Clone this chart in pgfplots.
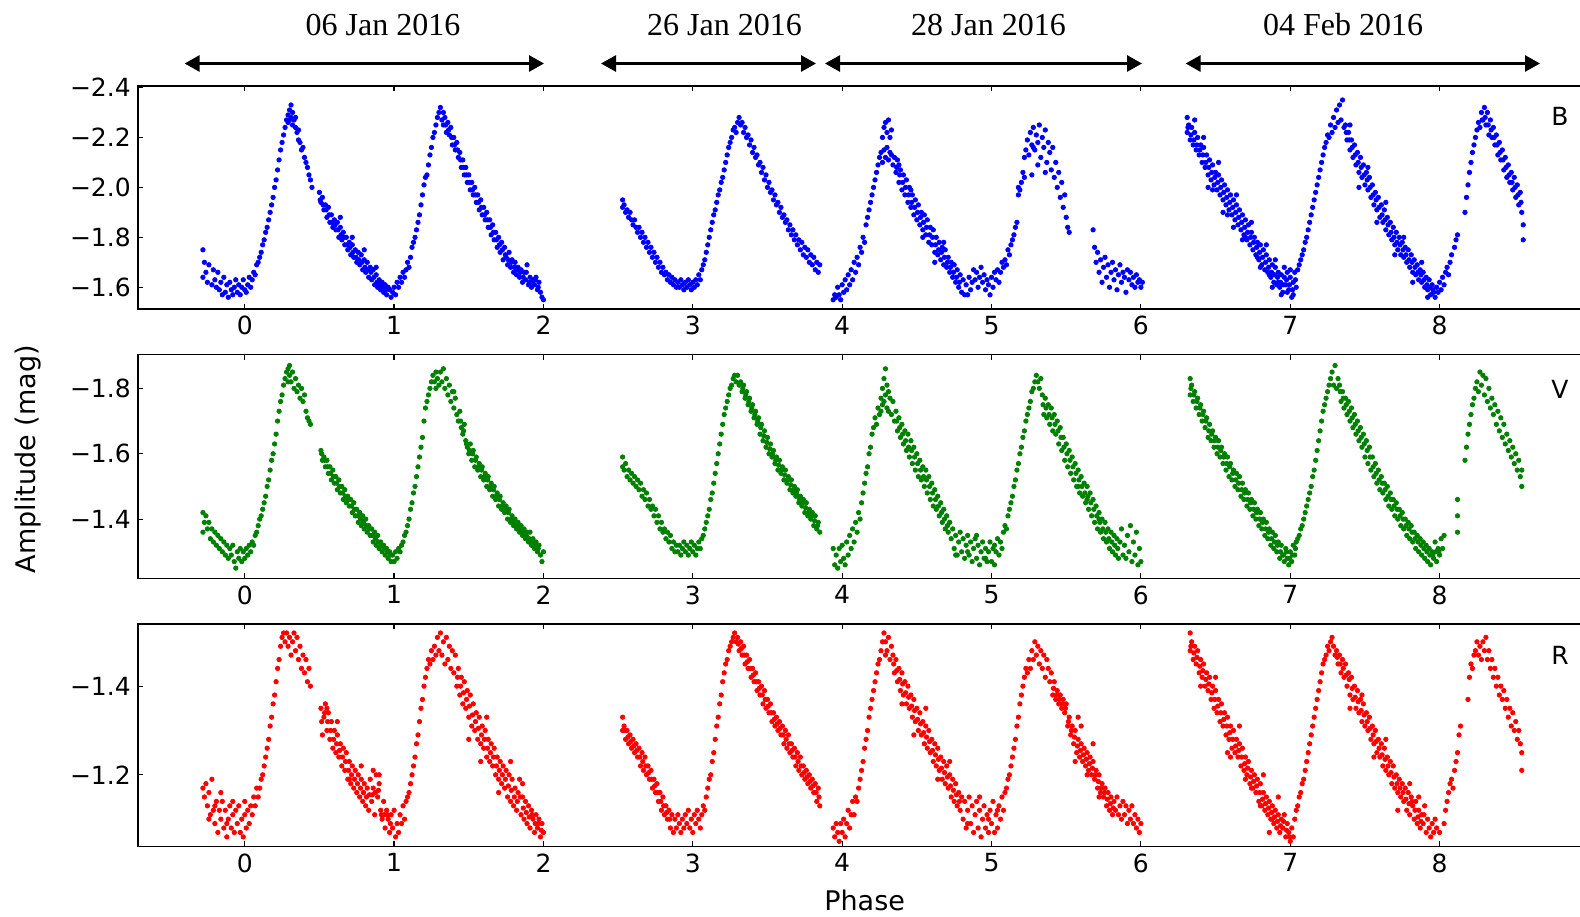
\documentclass[border=0pt]{standalone}
\usepackage{fontspec}
\setmainfont{DejaVu Sans}
\newfontfamily\timesf{Liberation Serif}
\usepackage{pgfplots}
\pgfplotsset{compat=1.18}
\usetikzlibrary{arrows.meta}
\definecolor{mblue}{RGB}{0,0,255}
\definecolor{mgreen}{RGB}{0,128,0}
\definecolor{mred}{RGB}{255,0,0}
\pgfplotsset{
  panel/.style={
    scale only axis, width=723.1pt,
    xmin=-0.716, xmax=8.9668,
    y dir=reverse,
    axis line style={line width=0.8pt},
    tick align=inside,
    xtick={0,1,2,3,4,5,6,7,8}, xticklabels={0,1,2,3,4,5,6,7,8},
    xtick pos=both, xticklabel pos=lower,
    ytick pos=left,
    major tick length=2.6pt,
    every tick/.style={black, line width=0.6pt},
    tick label style={font=\fontsize{12.5}{14}\selectfont},
  },
  dots/.style={only marks, mark=*, mark size=1.1pt, mark options={draw=none}, color=#1},
}
\begin{document}
\begin{tikzpicture}
\useasboundingbox (0,0) rectangle (790pt,-458pt);
% date labels and arrows
\node[font=\timesf\fontsize{16}{18}\selectfont, anchor=base] at (191.5pt,-17.5pt) {06 Jan 2016};
\node[font=\timesf\fontsize{16}{18}\selectfont, anchor=base] at (362.25pt,-17.5pt) {26 Jan 2016};
\node[font=\timesf\fontsize{16}{18}\selectfont, anchor=base] at (494.25pt,-17.5pt) {28 Jan 2016};
\node[font=\timesf\fontsize{16}{18}\selectfont, anchor=base] at (671.5pt,-17.5pt) {04 Feb 2016};
\begin{scope}[line width=1.4pt, {Triangle[length=7.5pt,width=8pt]}-{Triangle[length=7.5pt,width=8pt]}]
\draw (92.3pt,-31.75pt) -- (272pt,-31.75pt);
\draw (300.5pt,-31.75pt) -- (408pt,-31.75pt);
\draw (412.5pt,-31.75pt) -- (571pt,-31.75pt);
\draw (592.8pt,-31.75pt) -- (770pt,-31.75pt);
\end{scope}
\node[font=\fontsize{13.5}{15}\selectfont, rotate=90, anchor=base] at (17.7pt,-229.5pt) {Amplitude (mag)};
\node[font=\fontsize{13.5}{15}\selectfont, anchor=base] at (432.3pt,-455pt) {Phase};

% ---------------- B ----------------
\begin{axis}[panel, at={(68.9pt,-43pt)}, anchor=north west, height=111.5pt,
  ymin=-2.406, ymax=-1.513,
  ytick={-2.4,-2.2,-2.0,-1.8,-1.6}, yticklabels={−2.4,−2.2,−2.0,−1.8,−1.6}]
\addplot[dots=mblue] coordinates {
(-0.28,-1.75)(-0.28,-1.64)(-0.27,-1.70)(-0.26,-1.66)(-0.25,-1.62)(-0.24,-1.69)(-0.22,-1.61)(-0.21,-1.67)(-0.20,-1.63)(-0.19,-1.60)
(-0.18,-1.66)(-0.17,-1.59)(-0.16,-1.62)(-0.15,-1.57)(-0.14,-1.64)(-0.13,-1.58)(-0.12,-1.61)(-0.11,-1.56)(-0.10,-1.62)(-0.09,-1.59)
(-0.08,-1.57)(-0.07,-1.60)(-0.06,-1.63)(-0.05,-1.58)(-0.04,-1.61)(-0.03,-1.57)(-0.02,-1.60)(-0.01,-1.63)(0.00,-1.59)(0.01,-1.58)
(0.02,-1.61)(0.03,-1.64)(0.04,-1.60)(0.05,-1.63)(0.06,-1.66)(0.07,-1.65)(0.08,-1.69)(0.09,-1.70)(0.10,-1.72)(0.11,-1.74)
(0.12,-1.77)(0.13,-1.79)(0.14,-1.82)(0.15,-1.84)(0.16,-1.87)(0.17,-1.90)(0.18,-1.93)(0.19,-1.96)(0.20,-2.00)(0.21,-2.03)
(0.22,-2.07)(0.23,-2.11)(0.24,-2.15)(0.25,-2.18)(0.26,-2.21)(0.27,-2.24)(0.28,-2.27)(0.29,-2.26)(0.29,-2.29)(0.30,-2.31)
(0.30,-2.27)(0.31,-2.33)(0.31,-2.28)(0.32,-2.30)(0.32,-2.25)(0.33,-2.27)(0.34,-2.24)(0.34,-2.28)(0.35,-2.22)(0.36,-2.19)
(0.36,-2.23)(0.37,-2.18)(0.38,-2.15)(0.39,-2.16)(0.40,-2.12)(0.41,-2.10)(0.42,-2.08)(0.43,-2.05)(0.44,-2.03)(0.45,-2.00)
(0.50,-1.98)(0.51,-1.94)(0.52,-1.96)(0.53,-1.91)(0.54,-1.93)(0.55,-1.88)(0.56,-1.92)(0.57,-1.86)(0.58,-1.89)(0.59,-1.84)
(0.60,-1.87)(0.61,-1.83)(0.62,-1.86)(0.63,-1.80)(0.64,-1.84)(0.65,-1.79)(0.66,-1.82)(0.67,-1.77)(0.68,-1.80)(0.69,-1.75)
(0.70,-1.78)(0.71,-1.73)(0.72,-1.77)(0.73,-1.72)(0.74,-1.75)(0.75,-1.70)(0.76,-1.74)(0.77,-1.69)(0.78,-1.73)(0.79,-1.67)
(0.80,-1.71)(0.81,-1.66)(0.82,-1.70)(0.83,-1.64)(0.84,-1.68)(0.85,-1.63)(0.86,-1.67)(0.87,-1.61)(0.88,-1.65)(0.89,-1.60)
(0.90,-1.63)(0.91,-1.59)(0.92,-1.62)(0.93,-1.58)(0.94,-1.61)(0.95,-1.57)(0.96,-1.60)(0.97,-1.59)(0.98,-1.56)(0.99,-1.58)
(1.00,-1.60)(1.01,-1.57)(0.64,-1.88)(0.72,-1.80)(0.80,-1.75)(0.88,-1.68)
(1.02,-1.62)(1.03,-1.60)(1.04,-1.64)(1.05,-1.62)(1.06,-1.66)(1.07,-1.64)(1.08,-1.67)(1.09,-1.70)(1.10,-1.68)(1.11,-1.72)
(1.12,-1.76)(1.13,-1.78)(1.14,-1.80)(1.15,-1.83)(1.16,-1.86)(1.17,-1.89)(1.18,-1.93)(1.19,-1.97)(1.20,-2.01)(1.21,-2.04)
(1.22,-2.05)(1.23,-2.09)(1.24,-2.13)(1.25,-2.16)(1.26,-2.20)(1.27,-2.22)(1.28,-2.25)(1.29,-2.28)(1.30,-2.30)(1.31,-2.32)(1.32,-2.27)
(1.33,-2.30)(1.33,-2.25)(1.34,-2.28)(1.35,-2.22)(1.36,-2.26)(1.37,-2.21)(1.38,-2.24)(1.39,-2.17)(1.40,-2.20)(1.41,-2.15)
(1.42,-2.18)(1.43,-2.12)(1.44,-2.14)(1.45,-2.08)(1.46,-2.11)(1.47,-2.05)(1.48,-2.08)(1.49,-2.02)(1.50,-2.05)(1.51,-1.99)
(1.52,-2.02)(1.53,-1.97)(1.54,-2.00)(1.55,-1.94)(1.56,-1.97)(1.57,-1.91)(1.58,-1.95)(1.59,-1.89)(1.60,-1.92)(1.61,-1.87)
(1.62,-1.90)(1.63,-1.84)(1.64,-1.87)(1.65,-1.81)(1.66,-1.85)(1.67,-1.79)(1.68,-1.82)(1.69,-1.76)(1.70,-1.80)(1.71,-1.74)
(1.72,-1.78)(1.73,-1.71)(1.74,-1.76)(1.75,-1.72)(1.76,-1.69)(1.77,-1.74)(1.78,-1.68)(1.79,-1.71)(1.80,-1.66)(1.81,-1.70)
(1.82,-1.65)(1.83,-1.68)(1.84,-1.64)(1.85,-1.67)(1.86,-1.62)(1.87,-1.66)(1.88,-1.63)(1.89,-1.69)(1.90,-1.61)(1.91,-1.64)
(1.92,-1.60)(1.93,-1.63)(1.94,-1.61)(1.95,-1.64)(1.96,-1.59)(1.97,-1.62)(1.98,-1.58)(1.99,-1.56)(2.00,-1.55)
(2.53,-1.95)(2.53,-1.92)(2.54,-1.93)(2.55,-1.90)(2.56,-1.91)(2.57,-1.88)(2.58,-1.90)(2.59,-1.87)(2.60,-1.85)(2.61,-1.87)
(2.62,-1.84)(2.63,-1.82)(2.64,-1.84)(2.65,-1.80)(2.66,-1.82)(2.67,-1.78)(2.68,-1.80)(2.69,-1.76)(2.70,-1.78)(2.71,-1.74)
(2.72,-1.76)(2.73,-1.72)(2.74,-1.74)(2.75,-1.70)(2.76,-1.72)(2.77,-1.68)(2.78,-1.70)(2.79,-1.66)(2.80,-1.68)(2.81,-1.65)
(2.82,-1.66)(2.83,-1.63)(2.84,-1.65)(2.85,-1.62)(2.86,-1.64)(2.87,-1.61)(2.88,-1.63)(2.89,-1.60)(2.90,-1.62)(2.91,-1.60)
(2.92,-1.63)(2.93,-1.61)(2.94,-1.59)(2.95,-1.62)(2.96,-1.60)(2.97,-1.63)(2.98,-1.61)(2.99,-1.59)(3.00,-1.62)(3.01,-1.60)
(3.02,-1.63)(3.03,-1.61)(3.04,-1.65)(3.05,-1.63)(3.06,-1.67)(3.07,-1.69)(3.08,-1.71)(3.09,-1.74)(3.10,-1.77)(3.11,-1.80)
(3.12,-1.83)(3.13,-1.86)(3.14,-1.89)(3.15,-1.91)(3.16,-1.94)(3.17,-1.97)(3.18,-1.99)(3.19,-2.02)(3.20,-2.04)(3.21,-2.07)
(3.22,-2.10)(3.23,-2.13)(3.24,-2.16)(3.25,-2.18)(3.26,-2.20)(3.27,-2.23)(3.28,-2.24)(3.29,-2.22)(3.30,-2.26)(3.31,-2.28)
(3.32,-2.25)(3.33,-2.26)(3.34,-2.22)(3.35,-2.24)(3.36,-2.20)(3.37,-2.21)(3.38,-2.17)(3.39,-2.19)(3.40,-2.14)(3.41,-2.16)
(3.42,-2.12)(3.43,-2.13)(3.44,-2.09)(3.45,-2.10)(3.46,-2.06)(3.47,-2.08)(3.48,-2.03)(3.49,-2.05)(3.50,-2.00)(3.51,-2.02)
(3.52,-1.98)(3.53,-1.99)(3.54,-1.95)(3.55,-1.97)(3.56,-1.93)(3.57,-1.94)(3.58,-1.90)(3.59,-1.92)(3.60,-1.88)(3.61,-1.89)
(3.62,-1.86)(3.63,-1.87)(3.64,-1.83)(3.65,-1.85)(3.66,-1.81)(3.67,-1.83)(3.68,-1.79)(3.69,-1.81)(3.70,-1.77)(3.71,-1.79)
(3.72,-1.75)(3.73,-1.78)(3.74,-1.73)(3.75,-1.76)(3.76,-1.72)(3.77,-1.75)(3.78,-1.70)(3.79,-1.73)(3.80,-1.69)(3.81,-1.72)
(3.82,-1.67)(3.83,-1.70)(3.84,-1.66)(3.85,-1.69)
(3.94,-1.55)(3.95,-1.57)(3.96,-1.56)(3.97,-1.60)(3.98,-1.57)(3.99,-1.55)(4.00,-1.61)(4.01,-1.58)(4.02,-1.63)(4.03,-1.59)
(4.04,-1.65)(4.05,-1.61)(4.06,-1.67)(4.07,-1.63)(4.08,-1.70)(4.09,-1.66)(4.10,-1.72)(4.11,-1.69)(4.12,-1.76)(4.13,-1.74)
(4.14,-1.80)(4.15,-1.78)(4.16,-1.85)(4.17,-1.88)(4.18,-1.91)(4.19,-1.94)(4.20,-1.97)(4.21,-2.00)(4.22,-2.03)(4.23,-2.06)
(4.24,-2.09)(4.25,-2.12)(4.26,-2.14)(4.27,-2.10)(4.27,-2.20)(4.28,-2.15)(4.28,-2.24)(4.29,-2.12)(4.29,-2.26)(4.30,-2.16)
(4.30,-2.22)(4.31,-2.11)(4.31,-2.27)(4.32,-2.14)(4.32,-2.20)(4.33,-2.13)(4.33,-2.23)(4.34,-2.09)(4.35,-2.12)
(4.36,-2.06)(4.37,-2.11)(4.38,-2.02)(4.39,-2.07)(4.40,-1.99)(4.41,-2.05)(4.42,-1.97)(4.43,-2.03)(4.44,-1.94)(4.45,-2.00)
(4.46,-1.92)(4.47,-1.97)(4.48,-1.89)(4.49,-1.95)(4.50,-1.87)(4.51,-1.93)(4.52,-1.85)(4.53,-1.90)(4.54,-1.83)(4.55,-1.89)
(4.56,-1.81)(4.57,-1.87)(4.58,-1.78)(4.59,-1.84)(4.60,-1.77)(4.61,-1.83)(4.62,-1.74)(4.63,-1.80)(4.64,-1.73)(4.65,-1.78)
(4.66,-1.71)(4.67,-1.76)(4.68,-1.69)(4.69,-1.75)(4.70,-1.68)(4.71,-1.72)(4.72,-1.66)(4.73,-1.70)(4.74,-1.64)(4.75,-1.69)
(4.76,-1.62)(4.77,-1.67)(4.78,-1.60)(4.79,-1.65)(4.80,-1.58)(4.81,-1.63)
(4.82,-1.57)(4.83,-1.61)(4.84,-1.57)(4.85,-1.64)(4.86,-1.59)(4.87,-1.62)(4.88,-1.67)(4.89,-1.63)(4.90,-1.66)(4.91,-1.60)
(4.92,-1.64)(4.93,-1.68)(4.94,-1.62)(4.95,-1.65)(4.96,-1.59)(4.97,-1.63)(4.98,-1.61)(4.99,-1.57)(5.00,-1.64)(5.01,-1.60)
(5.02,-1.66)(5.03,-1.63)(5.04,-1.67)(5.05,-1.62)(5.06,-1.66)(5.07,-1.70)(5.08,-1.68)
(5.09,-1.71)(5.10,-1.69)(5.11,-1.75)(5.12,-1.73)(5.13,-1.77)(5.14,-1.79)(5.15,-1.81)(5.16,-1.84)(5.17,-1.86)(5.18,-1.97)
(5.18,-2.00)(5.19,-1.99)(5.20,-2.02)(5.21,-2.06)(5.22,-2.04)(5.22,-2.12)(5.23,-2.15)
(5.24,-2.19)(5.25,-2.13)(5.26,-2.22)(5.27,-2.17)(5.28,-2.24)(5.29,-2.15)(5.30,-2.21)(5.31,-2.18)(5.32,-2.25)(5.33,-2.12)
(5.34,-2.20)(5.35,-2.16)(5.36,-2.23)(5.37,-2.10)(5.38,-2.18)(5.39,-2.14)(5.40,-2.07)(5.41,-2.16)(5.42,-2.04)(5.43,-2.10)
(5.44,-2.00)(5.45,-2.06)(5.46,-1.96)(5.47,-2.02)(5.48,-1.92)(5.49,-1.97)(5.50,-1.88)(5.51,-1.84)(5.52,-1.82)
(5.27,-2.05)(5.31,-2.09)(5.36,-2.06)(5.28,-2.16)
(5.68,-1.83)(5.69,-1.76)(5.70,-1.70)(5.71,-1.74)(5.72,-1.66)(5.73,-1.71)(5.74,-1.62)(5.75,-1.68)(5.76,-1.72)(5.77,-1.64)
(5.78,-1.69)(5.79,-1.60)(5.80,-1.66)(5.81,-1.70)(5.82,-1.63)(5.83,-1.67)(5.84,-1.59)(5.85,-1.65)(5.86,-1.69)(5.87,-1.62)
(5.88,-1.66)(5.89,-1.64)(5.90,-1.58)(5.91,-1.67)(5.92,-1.63)(5.93,-1.66)(5.94,-1.61)(5.95,-1.64)(5.96,-1.60)(5.97,-1.65)
(5.98,-1.62)(5.99,-1.63)(6.00,-1.60)(6.01,-1.62)
(6.31,-2.28)(6.31,-2.22)(6.32,-2.25)(6.33,-2.19)(6.34,-2.24)(6.35,-2.17)(6.36,-2.22)(6.37,-2.15)(6.38,-2.20)(6.39,-2.13)
(6.40,-2.17)(6.41,-2.10)(6.42,-2.16)(6.43,-2.08)(6.44,-2.13)(6.45,-2.05)(6.46,-2.11)(6.47,-2.03)(6.48,-2.09)(6.49,-2.01)
(6.50,-2.06)(6.51,-1.99)(6.52,-2.05)(6.53,-1.97)(6.54,-2.03)(6.55,-1.95)(6.56,-2.01)(6.57,-1.93)(6.58,-1.99)(6.59,-1.91)
(6.60,-1.97)(6.61,-1.89)(6.62,-1.95)(6.63,-1.87)(6.64,-1.93)(6.65,-1.85)(6.66,-1.91)(6.67,-1.83)(6.68,-1.89)(6.69,-1.81)
(6.70,-1.87)(6.71,-1.79)(6.72,-1.85)(6.73,-1.77)(6.74,-1.82)(6.75,-1.75)(6.76,-1.80)(6.77,-1.73)(6.78,-1.78)(6.79,-1.71)
(6.80,-1.77)(6.81,-1.69)(6.82,-1.75)(6.83,-1.67)(6.84,-1.73)(6.85,-1.66)(6.86,-1.71)(6.87,-1.64)(6.88,-1.69)(6.89,-1.62)
(6.90,-1.68)(6.91,-1.61)(6.92,-1.66)(6.93,-1.60)(6.94,-1.65)(6.95,-1.58)(6.96,-1.64)(6.97,-1.61)(6.98,-1.66)(6.99,-1.59)
(7.00,-1.64)(7.01,-1.56)(7.02,-1.62)(7.03,-1.66)(7.04,-1.60)
(6.45,-2.00)(6.55,-1.90)(6.62,-1.84)(6.70,-1.80)(6.78,-1.72)(6.86,-1.65)(6.92,-1.62)(6.96,-1.68)(7.00,-1.67)
(7.05,-1.67)(7.06,-1.69)(7.07,-1.71)(7.08,-1.73)(7.09,-1.75)(7.10,-1.78)(7.11,-1.80)(7.12,-1.83)(7.13,-1.86)(7.14,-1.89)
(7.15,-1.92)(7.16,-1.95)(7.17,-1.98)(7.18,-2.01)(7.19,-2.04)(7.20,-2.07)(7.21,-2.10)(7.22,-2.13)(7.23,-2.16)(7.24,-2.18)
(7.25,-2.21)(7.26,-2.20)(7.27,-2.25)(7.28,-2.22)(7.29,-2.28)(7.30,-2.24)(7.31,-2.31)(7.32,-2.26)(7.33,-2.33)(7.34,-2.27)
(7.35,-2.35)(7.36,-2.24)
(7.37,-2.25)(7.38,-2.19)(7.39,-2.22)(7.40,-2.15)(7.41,-2.19)(7.42,-2.12)(7.43,-2.17)(7.44,-2.09)(7.45,-2.14)(7.46,-2.06)
(7.47,-2.12)(7.48,-2.04)(7.49,-2.09)(7.50,-2.01)(7.51,-2.06)(7.52,-1.99)(7.53,-2.04)(7.54,-1.96)(7.55,-2.01)(7.56,-1.93)
(7.57,-1.98)(7.58,-1.91)(7.59,-1.96)(7.60,-1.88)(7.61,-1.93)(7.62,-1.86)(7.63,-1.91)(7.64,-1.83)(7.65,-1.88)(7.66,-1.81)
(7.67,-1.86)(7.68,-1.79)(7.69,-1.84)(7.70,-1.77)(7.71,-1.82)(7.72,-1.75)(7.73,-1.80)(7.74,-1.73)(7.75,-1.78)(7.76,-1.72)
(7.77,-1.76)(7.78,-1.70)(7.79,-1.75)(7.80,-1.68)(7.81,-1.73)(7.82,-1.66)(7.83,-1.71)(7.84,-1.65)(7.85,-1.69)(7.86,-1.63)
(7.87,-1.67)(7.88,-1.62)(7.89,-1.66)(7.90,-1.60)(7.91,-1.64)(7.92,-1.59)(7.93,-1.63)(7.94,-1.57)(7.95,-1.61)(7.96,-1.58)
(7.97,-1.56)(7.98,-1.60)(7.99,-1.58)(8.00,-1.62)
(8.01,-1.59)(8.02,-1.64)(8.03,-1.61)(8.04,-1.66)(8.05,-1.68)(8.06,-1.65)(8.07,-1.70)(8.08,-1.73)(8.10,-1.76)(8.11,-1.79)(8.12,-1.81)
(8.17,-1.90)(8.18,-1.96)(8.19,-2.01)(8.20,-2.06)(8.21,-2.10)(8.22,-2.14)(8.23,-2.17)(8.24,-2.20)(8.25,-2.23)(8.26,-2.26)
(8.27,-2.24)(8.28,-2.30)(8.29,-2.27)(8.30,-2.32)(8.31,-2.25)(8.32,-2.30)(8.33,-2.21)(8.34,-2.27)(8.35,-2.20)(8.36,-2.24)
(8.37,-2.17)(8.38,-2.21)(8.39,-2.13)(8.40,-2.18)(8.41,-2.11)(8.42,-2.15)(8.43,-2.07)(8.44,-2.12)(8.45,-2.04)(8.46,-2.09)
(8.47,-2.02)(8.48,-2.06)(8.49,-1.99)(8.50,-2.04)(8.51,-1.96)(8.52,-2.01)(8.53,-1.93)(8.54,-1.98)(8.55,-1.90)(8.56,-1.85)(8.56,-1.79)
};
\addplot[dots=mblue] coordinates {
(0.505,-1.95)(0.525,-1.93)(0.545,-1.91)(0.565,-1.89)(0.585,-1.86)(0.605,-1.85)(0.625,-1.83)(0.645,-1.81)(0.665,-1.80)(0.685,-1.77)
(0.705,-1.76)(0.725,-1.74)(0.745,-1.72)(0.765,-1.71)(0.785,-1.70)(0.805,-1.68)(0.825,-1.67)(0.845,-1.66)(0.865,-1.64)(0.885,-1.62)
(0.905,-1.61)(0.925,-1.60)(0.945,-1.59)
(1.345,-2.25)(1.365,-2.23)(1.385,-2.20)(1.405,-2.17)(1.425,-2.15)(1.445,-2.11)(1.465,-2.08)(1.485,-2.05)(1.505,-2.02)(1.525,-1.99)
(1.545,-1.97)(1.565,-1.94)(1.585,-1.92)(1.605,-1.89)(1.625,-1.87)(1.645,-1.84)(1.665,-1.82)(1.685,-1.79)(1.705,-1.77)(1.725,-1.75)
(1.745,-1.73)(1.765,-1.71)(1.785,-1.70)(1.805,-1.68)(1.825,-1.67)(1.845,-1.66)(1.865,-1.64)(1.885,-1.66)(1.905,-1.62)(1.925,-1.62)
(1.945,-1.63)(1.965,-1.60)
(4.365,-2.08)(4.385,-2.05)(4.405,-2.02)(4.425,-2.00)(4.445,-1.97)(4.465,-1.94)(4.485,-1.92)(4.505,-1.90)(4.525,-1.88)(4.545,-1.86)
(4.565,-1.84)(4.585,-1.81)(4.605,-1.80)(4.625,-1.77)(4.645,-1.75)(4.665,-1.74)(4.685,-1.72)(4.705,-1.70)(4.725,-1.68)(4.745,-1.66)
(4.765,-1.64)(4.785,-1.62)(4.38,-2.09)(4.46,-1.99)(4.54,-1.80)(4.62,-1.70)(4.68,-1.78)
(6.315,-2.24)(6.335,-2.21)(6.355,-2.19)(6.375,-2.17)(6.395,-2.15)(6.415,-2.13)(6.435,-2.10)(6.455,-2.08)(6.475,-2.06)(6.495,-2.04)
(6.515,-2.02)(6.535,-2.00)(6.555,-1.98)(6.575,-1.96)(6.595,-1.94)(6.615,-1.92)(6.635,-1.90)(6.655,-1.88)(6.675,-1.86)(6.695,-1.84)
(6.715,-1.82)(6.735,-1.80)(6.755,-1.78)(6.775,-1.76)(6.795,-1.74)(6.815,-1.72)(6.835,-1.70)(6.855,-1.68)(6.875,-1.66)(6.895,-1.65)
(6.915,-1.64)(6.935,-1.62)(6.955,-1.61)(6.975,-1.63)(6.995,-1.61)(7.015,-1.59)(7.035,-1.63)
(6.36,-2.27)(6.42,-2.20)(6.48,-1.99)(6.52,-2.10)(6.58,-1.89)(6.64,-1.97)(6.68,-1.79)(6.74,-1.86)(6.80,-1.68)(6.84,-1.77)
(6.88,-1.60)(6.90,-1.71)(6.94,-1.57)(6.98,-1.58)(7.02,-1.57)
(7.375,-2.22)(7.395,-2.19)(7.415,-2.16)(7.435,-2.13)(7.455,-2.10)(7.475,-2.08)(7.495,-2.05)(7.515,-2.03)(7.535,-2.00)(7.555,-1.97)
(7.575,-1.95)(7.595,-1.92)(7.615,-1.89)(7.635,-1.87)(7.655,-1.85)(7.675,-1.82)(7.695,-1.80)(7.715,-1.78)(7.735,-1.77)(7.755,-1.75)
(7.775,-1.73)(7.795,-1.71)(7.815,-1.70)(7.835,-1.68)(7.855,-1.66)(7.875,-1.65)(7.895,-1.63)(7.915,-1.61)(7.935,-1.60)(7.955,-1.59)
(7.40,-2.25)(7.46,-2.00)(7.52,-2.08)(7.58,-1.86)(7.64,-1.94)(7.70,-1.73)(7.76,-1.80)(7.82,-1.62)(7.88,-1.70)(7.92,-1.56)
(8.285,-2.27)(8.305,-2.28)(8.325,-2.25)(8.345,-2.23)(8.365,-2.20)(8.385,-2.17)(8.405,-2.14)(8.425,-2.11)(8.445,-2.08)(8.465,-2.05)
(8.485,-2.02)(8.505,-2.00)(8.525,-1.97)(8.545,-1.94)
};
\node[font=\fontsize{12.5}{14}\selectfont] at (axis description cs:0.9834,0.865) {B};
\end{axis}

% ---------------- V ----------------
\begin{axis}[panel, at={(68.9pt,-177.2pt)}, anchor=north west, height=112pt,
  ymin=-1.904, ymax=-1.2185,
  ytick={-1.8,-1.6,-1.4}, yticklabels={−1.8,−1.6,−1.4}]
\addplot[dots=mgreen] coordinates {
(-0.28,-1.42)(-0.28,-1.36)(-0.27,-1.39)(-0.26,-1.41)(-0.25,-1.37)(-0.24,-1.39)(-0.23,-1.34)(-0.22,-1.37)(-0.21,-1.33)(-0.20,-1.36)
(-0.19,-1.32)(-0.18,-1.35)(-0.17,-1.31)(-0.16,-1.34)(-0.15,-1.30)(-0.14,-1.33)(-0.13,-1.29)(-0.12,-1.32)(-0.11,-1.28)(-0.10,-1.31)
(-0.09,-1.29)(-0.08,-1.32)(-0.07,-1.27)(-0.06,-1.25)(-0.05,-1.30)(-0.04,-1.28)(-0.03,-1.31)(-0.02,-1.27)(-0.01,-1.30)(0.00,-1.28)
(0.01,-1.31)(0.02,-1.29)(0.03,-1.32)(0.04,-1.30)(0.05,-1.33)(0.06,-1.32)
(0.07,-1.35)(0.08,-1.36)(0.09,-1.38)(0.10,-1.40)(0.11,-1.41)(0.12,-1.43)(0.13,-1.45)(0.14,-1.47)(0.15,-1.50)(0.16,-1.52)
(0.17,-1.55)(0.18,-1.58)(0.19,-1.60)(0.20,-1.63)(0.21,-1.66)(0.22,-1.70)(0.23,-1.73)(0.24,-1.76)(0.25,-1.78)(0.26,-1.81)
(0.27,-1.83)(0.28,-1.85)(0.29,-1.82)(0.29,-1.86)(0.30,-1.84)(0.30,-1.87)(0.31,-1.82)(0.32,-1.85)(0.33,-1.80)(0.34,-1.83)
(0.35,-1.79)(0.36,-1.81)(0.37,-1.77)(0.38,-1.80)(0.39,-1.76)(0.40,-1.78)(0.41,-1.73)(0.42,-1.71)(0.43,-1.70)(0.44,-1.69)
(0.51,-1.61)(0.52,-1.58)(0.53,-1.59)(0.54,-1.56)(0.55,-1.58)(0.56,-1.54)(0.57,-1.56)(0.58,-1.52)(0.59,-1.55)(0.60,-1.51)
(0.61,-1.53)(0.62,-1.49)(0.63,-1.52)(0.64,-1.48)(0.65,-1.50)(0.66,-1.46)(0.67,-1.49)(0.68,-1.45)(0.69,-1.47)(0.70,-1.44)
(0.71,-1.46)(0.72,-1.42)(0.73,-1.45)(0.74,-1.41)(0.75,-1.43)(0.76,-1.39)(0.77,-1.42)(0.78,-1.38)(0.79,-1.41)(0.80,-1.37)
(0.81,-1.40)(0.82,-1.36)(0.83,-1.38)(0.84,-1.35)(0.85,-1.37)(0.86,-1.33)(0.87,-1.36)(0.88,-1.32)(0.89,-1.35)(0.90,-1.31)
(0.91,-1.33)(0.92,-1.30)(0.93,-1.32)(0.94,-1.29)(0.95,-1.31)(0.96,-1.28)(0.97,-1.30)(0.98,-1.27)(0.99,-1.29)(1.00,-1.27)
(1.01,-1.30)(1.02,-1.28)(1.03,-1.31)
(1.04,-1.30)(1.05,-1.32)(1.06,-1.33)(1.07,-1.35)(1.08,-1.36)(1.09,-1.38)(1.10,-1.40)(1.11,-1.43)(1.12,-1.45)(1.13,-1.48)
(1.14,-1.50)(1.15,-1.53)(1.16,-1.56)(1.17,-1.59)(1.18,-1.62)(1.19,-1.65)(1.20,-1.70)(1.21,-1.74)(1.22,-1.76)(1.23,-1.78)
(1.24,-1.80)(1.25,-1.82)(1.26,-1.84)(1.27,-1.82)(1.28,-1.85)(1.29,-1.83)(1.30,-1.81)(1.31,-1.85)(1.32,-1.82)(1.33,-1.86)
(1.34,-1.80)(1.35,-1.83)(1.36,-1.78)(1.37,-1.81)(1.38,-1.76)(1.39,-1.79)(1.40,-1.74)(1.41,-1.77)(1.42,-1.72)(1.43,-1.70)
(1.44,-1.73)(1.45,-1.68)(1.46,-1.66)(1.47,-1.69)(1.48,-1.64)(1.49,-1.62)(1.50,-1.60)(1.51,-1.63)(1.52,-1.58)(1.53,-1.61)
(1.54,-1.56)(1.55,-1.59)(1.56,-1.55)(1.57,-1.57)(1.58,-1.53)(1.59,-1.56)(1.60,-1.52)(1.61,-1.54)(1.62,-1.50)(1.63,-1.53)
(1.64,-1.49)(1.65,-1.51)(1.66,-1.47)(1.67,-1.50)(1.68,-1.46)(1.69,-1.48)(1.70,-1.44)(1.71,-1.47)(1.72,-1.43)(1.73,-1.45)
(1.74,-1.42)(1.75,-1.44)(1.76,-1.40)(1.77,-1.43)(1.78,-1.39)(1.79,-1.41)(1.80,-1.38)(1.81,-1.40)(1.82,-1.37)(1.83,-1.39)
(1.84,-1.36)(1.85,-1.38)(1.86,-1.35)(1.87,-1.37)(1.88,-1.34)(1.89,-1.36)(1.90,-1.33)(1.91,-1.36)(1.92,-1.32)(1.93,-1.34)
(1.94,-1.31)(1.95,-1.33)(1.96,-1.30)(1.97,-1.32)(1.98,-1.29)(1.99,-1.27)(2.00,-1.30)(1.28,-1.80)(1.40,-1.79)
(2.53,-1.59)(2.53,-1.56)(2.54,-1.55)(2.55,-1.57)(2.56,-1.53)(2.57,-1.55)(2.58,-1.52)(2.59,-1.54)(2.60,-1.51)(2.61,-1.53)
(2.62,-1.50)(2.63,-1.52)(2.64,-1.49)(2.65,-1.51)(2.66,-1.47)(2.67,-1.49)(2.68,-1.46)(2.69,-1.48)(2.70,-1.44)(2.71,-1.46)
(2.72,-1.43)(2.73,-1.44)(2.74,-1.41)(2.75,-1.43)(2.76,-1.39)(2.77,-1.41)(2.78,-1.37)(2.79,-1.39)(2.80,-1.36)(2.81,-1.37)
(2.82,-1.34)(2.83,-1.36)(2.84,-1.33)(2.85,-1.35)(2.86,-1.31)(2.87,-1.33)(2.88,-1.30)(2.89,-1.32)(2.90,-1.30)(2.91,-1.32)
(2.92,-1.29)(2.93,-1.31)(2.94,-1.33)(2.95,-1.30)(2.96,-1.32)(2.97,-1.29)(2.98,-1.31)(2.99,-1.33)(3.00,-1.30)(3.01,-1.32)
(3.02,-1.29)(3.03,-1.31)(3.04,-1.33)(3.05,-1.31)(3.06,-1.34)(3.07,-1.35)(3.08,-1.37)(3.09,-1.39)(3.10,-1.41)(3.11,-1.43)
(3.12,-1.46)(3.13,-1.48)(3.14,-1.51)(3.15,-1.54)(3.16,-1.57)(3.17,-1.60)(3.18,-1.63)(3.19,-1.66)(3.20,-1.69)(3.21,-1.72)
(3.22,-1.74)(3.23,-1.76)(3.24,-1.78)(3.25,-1.80)(3.26,-1.81)(3.27,-1.83)(3.28,-1.84)(3.29,-1.82)(3.30,-1.84)(3.31,-1.81)
(3.32,-1.82)(3.33,-1.79)(3.34,-1.81)(3.35,-1.77)(3.36,-1.79)(3.37,-1.75)(3.38,-1.77)(3.39,-1.73)(3.40,-1.75)(3.41,-1.71)
(3.42,-1.73)(3.43,-1.69)(3.44,-1.71)(3.45,-1.66)(3.46,-1.69)(3.47,-1.64)(3.48,-1.67)(3.49,-1.62)(3.50,-1.65)(3.51,-1.60)
(3.52,-1.63)(3.53,-1.59)(3.54,-1.61)(3.55,-1.57)(3.56,-1.59)(3.57,-1.55)(3.58,-1.58)(3.59,-1.54)(3.60,-1.56)(3.61,-1.52)
(3.62,-1.55)(3.63,-1.51)(3.64,-1.53)(3.65,-1.49)(3.66,-1.52)(3.67,-1.48)(3.68,-1.50)(3.69,-1.47)(3.70,-1.49)(3.71,-1.45)
(3.72,-1.47)(3.73,-1.44)(3.74,-1.46)(3.75,-1.42)(3.76,-1.45)(3.77,-1.41)(3.78,-1.43)(3.79,-1.40)(3.80,-1.42)(3.81,-1.38)
(3.82,-1.41)(3.83,-1.37)(3.84,-1.39)(3.85,-1.36)
(3.94,-1.31)(3.95,-1.26)(3.96,-1.29)(3.97,-1.25)(3.98,-1.31)(3.99,-1.27)(4.00,-1.32)(4.01,-1.28)(4.02,-1.26)(4.03,-1.33)
(4.04,-1.29)(4.05,-1.35)(4.06,-1.31)(4.07,-1.37)(4.08,-1.33)(4.09,-1.39)(4.10,-1.36)(4.11,-1.42)(4.12,-1.40)(4.13,-1.45)
(4.14,-1.48)(4.15,-1.51)(4.16,-1.54)(4.17,-1.56)(4.18,-1.60)(4.19,-1.62)(4.20,-1.66)(4.21,-1.68)(4.22,-1.71)(4.23,-1.69)
(4.24,-1.74)(4.25,-1.72)(4.26,-1.77)(4.26,-1.73)(4.27,-1.80)(4.27,-1.75)(4.28,-1.83)(4.28,-1.76)(4.29,-1.86)(4.29,-1.78)
(4.30,-1.81)(4.30,-1.74)(4.31,-1.79)(4.31,-1.73)(4.32,-1.77)(4.33,-1.72)(4.34,-1.76)(4.35,-1.70)
(4.36,-1.73)(4.37,-1.67)(4.38,-1.71)(4.39,-1.65)(4.40,-1.69)(4.41,-1.63)(4.42,-1.67)(4.43,-1.61)(4.44,-1.66)(4.45,-1.59)
(4.46,-1.64)(4.47,-1.57)(4.48,-1.62)(4.49,-1.55)(4.50,-1.60)(4.51,-1.53)(4.52,-1.58)(4.53,-1.52)(4.54,-1.56)(4.55,-1.50)
(4.56,-1.55)(4.57,-1.48)(4.58,-1.53)(4.59,-1.46)(4.60,-1.51)(4.61,-1.44)(4.62,-1.49)(4.63,-1.43)(4.64,-1.47)(4.65,-1.41)
(4.66,-1.45)(4.67,-1.39)(4.68,-1.43)(4.69,-1.37)(4.70,-1.41)(4.71,-1.36)(4.72,-1.39)
(4.73,-1.34)(4.74,-1.37)(4.75,-1.31)(4.76,-1.35)(4.77,-1.29)(4.78,-1.33)(4.79,-1.36)(4.80,-1.30)(4.81,-1.34)(4.82,-1.28)
(4.83,-1.32)(4.84,-1.35)(4.85,-1.29)(4.86,-1.33)(4.87,-1.27)(4.88,-1.31)(4.89,-1.34)(4.90,-1.28)(4.91,-1.32)(4.92,-1.26)
(4.93,-1.30)(4.94,-1.33)(4.95,-1.28)(4.96,-1.31)(4.97,-1.27)(4.98,-1.30)(4.99,-1.33)(5.00,-1.27)(5.01,-1.31)(5.02,-1.26)
(5.03,-1.30)(5.04,-1.34)(5.05,-1.29)(5.06,-1.33)(5.07,-1.31)(5.08,-1.36)
(4.76,-1.29)(4.84,-1.30)(4.90,-1.35)(4.96,-1.28)(5.02,-1.32)
(5.09,-1.38)(5.10,-1.37)(5.11,-1.41)(5.12,-1.43)(5.13,-1.45)(5.14,-1.47)(5.15,-1.50)(5.16,-1.52)(5.17,-1.55)(5.18,-1.57)
(5.19,-1.60)(5.20,-1.62)(5.21,-1.65)(5.22,-1.67)(5.23,-1.70)(5.24,-1.72)(5.25,-1.74)(5.26,-1.76)(5.27,-1.79)(5.28,-1.80)
(5.29,-1.82)(5.30,-1.84)(5.31,-1.82)(5.32,-1.80)(5.33,-1.83)
(5.34,-1.78)(5.35,-1.72)(5.36,-1.77)(5.37,-1.71)(5.38,-1.75)(5.39,-1.69)(5.40,-1.74)(5.41,-1.67)(5.42,-1.72)(5.43,-1.66)
(5.44,-1.70)(5.45,-1.63)(5.46,-1.68)(5.47,-1.61)(5.48,-1.65)(5.49,-1.58)(5.50,-1.63)(5.51,-1.56)(5.52,-1.61)(5.53,-1.54)
(5.54,-1.59)(5.55,-1.52)(5.56,-1.57)(5.57,-1.50)(5.58,-1.55)(5.59,-1.48)(5.60,-1.53)(5.61,-1.47)(5.62,-1.51)(5.63,-1.45)
(5.64,-1.50)(5.65,-1.43)(5.66,-1.48)(5.67,-1.41)(5.68,-1.46)(5.69,-1.39)(5.70,-1.44)(5.71,-1.37)(5.72,-1.42)(5.73,-1.36)
(5.74,-1.40)(5.75,-1.34)(5.76,-1.39)(5.77,-1.33)(5.78,-1.37)(5.79,-1.31)(5.80,-1.36)(5.81,-1.30)(5.82,-1.35)(5.83,-1.29)
(5.84,-1.34)(5.85,-1.28)(5.86,-1.33)(5.87,-1.37)(5.88,-1.29)(5.89,-1.32)(5.90,-1.28)(5.91,-1.35)(5.92,-1.30)(5.93,-1.38)
(5.94,-1.27)(5.95,-1.33)(5.96,-1.29)(5.97,-1.36)(5.98,-1.26)(5.99,-1.31)(6.00,-1.27)(5.58,-1.50)(5.64,-1.46)(5.72,-1.40)
(6.33,-1.83)(6.33,-1.78)(6.34,-1.81)(6.35,-1.76)(6.36,-1.79)(6.37,-1.74)(6.38,-1.77)(6.39,-1.72)(6.40,-1.75)(6.41,-1.70)
(6.42,-1.73)(6.43,-1.68)(6.44,-1.71)(6.45,-1.65)(6.46,-1.69)(6.47,-1.64)(6.48,-1.67)(6.49,-1.62)(6.50,-1.65)(6.51,-1.60)
(6.52,-1.64)(6.53,-1.59)(6.54,-1.62)(6.55,-1.57)(6.56,-1.60)(6.57,-1.55)(6.58,-1.59)(6.59,-1.53)(6.60,-1.57)(6.61,-1.52)
(6.62,-1.55)(6.63,-1.50)(6.64,-1.54)(6.65,-1.49)(6.66,-1.53)(6.67,-1.47)(6.68,-1.51)(6.69,-1.46)(6.70,-1.49)(6.71,-1.44)
(6.72,-1.48)(6.73,-1.43)(6.74,-1.46)(6.75,-1.41)(6.76,-1.45)(6.77,-1.40)(6.78,-1.43)(6.79,-1.38)(6.80,-1.42)(6.81,-1.37)
(6.82,-1.40)(6.83,-1.35)(6.84,-1.39)(6.85,-1.34)(6.86,-1.37)(6.87,-1.32)(6.88,-1.36)(6.89,-1.31)(6.90,-1.35)(6.91,-1.30)
(6.92,-1.33)(6.93,-1.28)(6.94,-1.32)(6.95,-1.29)(6.96,-1.27)(6.97,-1.31)(6.98,-1.28)(6.99,-1.26)(7.00,-1.30)(7.01,-1.27)
(7.02,-1.32)(7.03,-1.29)(7.04,-1.33)
(7.05,-1.34)(7.06,-1.35)(7.07,-1.37)(7.08,-1.38)(7.09,-1.40)(7.10,-1.42)(7.11,-1.44)(7.12,-1.46)(7.13,-1.48)(7.14,-1.50)
(7.15,-1.53)(7.16,-1.55)(7.17,-1.58)(7.18,-1.61)(7.19,-1.64)(7.20,-1.67)(7.21,-1.70)(7.22,-1.73)(7.23,-1.75)(7.24,-1.77)
(7.25,-1.79)(7.26,-1.81)(7.27,-1.83)(7.28,-1.85)(7.29,-1.81)(7.30,-1.87)(7.31,-1.80)(7.32,-1.83)
(7.33,-1.81)(7.34,-1.76)(7.35,-1.79)(7.36,-1.74)(7.37,-1.77)(7.38,-1.72)(7.39,-1.76)(7.40,-1.70)(7.41,-1.74)(7.42,-1.68)
(7.43,-1.72)(7.44,-1.66)(7.45,-1.70)(7.46,-1.64)(7.47,-1.68)(7.48,-1.62)(7.49,-1.66)(7.50,-1.59)(7.51,-1.64)(7.52,-1.57)
(7.53,-1.62)(7.54,-1.55)(7.55,-1.59)(7.56,-1.53)(7.57,-1.57)(7.58,-1.51)(7.59,-1.55)(7.60,-1.49)(7.61,-1.53)(7.62,-1.48)
(7.63,-1.51)(7.64,-1.46)(7.65,-1.50)(7.66,-1.44)(7.67,-1.48)(7.68,-1.43)(7.69,-1.46)(7.70,-1.41)(7.71,-1.45)(7.72,-1.40)
(7.73,-1.43)(7.74,-1.38)(7.75,-1.42)(7.76,-1.37)(7.77,-1.40)(7.78,-1.35)(7.79,-1.39)(7.80,-1.34)(7.81,-1.38)(7.82,-1.33)
(7.83,-1.36)(7.84,-1.31)(7.85,-1.35)(7.86,-1.30)(7.87,-1.34)(7.88,-1.29)(7.89,-1.33)(7.90,-1.28)(7.91,-1.32)(7.92,-1.27)
(7.93,-1.31)(7.94,-1.26)(7.95,-1.30)(7.96,-1.28)(7.97,-1.33)(7.98,-1.27)(7.99,-1.31)(8.00,-1.29)(8.01,-1.34)(8.02,-1.31)(8.03,-1.35)
(8.12,-1.36)(8.12,-1.41)(8.12,-1.46)
(8.17,-1.58)(8.18,-1.62)(8.19,-1.66)(8.20,-1.69)(8.21,-1.72)(8.22,-1.75)(8.23,-1.77)(8.24,-1.80)(8.25,-1.82)(8.26,-1.79)
(8.27,-1.85)(8.28,-1.81)(8.29,-1.84)(8.30,-1.78)(8.31,-1.83)(8.32,-1.76)(8.33,-1.80)(8.34,-1.74)(8.35,-1.77)(8.36,-1.72)
(8.37,-1.75)(8.38,-1.69)(8.39,-1.73)(8.40,-1.67)(8.41,-1.71)(8.42,-1.65)(8.43,-1.69)(8.44,-1.63)(8.45,-1.66)(8.46,-1.61)
(8.47,-1.64)(8.48,-1.59)(8.49,-1.62)(8.50,-1.57)(8.51,-1.60)(8.52,-1.55)(8.53,-1.58)(8.54,-1.53)(8.55,-1.55)(8.55,-1.50)
};
\addplot[dots=mgreen] coordinates {
(0.515,-1.60)(0.535,-1.58)(0.555,-1.56)(0.575,-1.54)(0.595,-1.53)(0.615,-1.51)(0.635,-1.50)(0.655,-1.48)(0.675,-1.47)(0.695,-1.46)
(0.715,-1.44)(0.735,-1.43)(0.755,-1.41)(0.775,-1.40)(0.795,-1.39)(0.815,-1.38)(0.835,-1.37)(0.855,-1.35)(0.875,-1.34)(0.895,-1.33)
(0.915,-1.32)(0.935,-1.31)(0.955,-1.30)(0.975,-1.29)
(1.445,-1.70)(1.465,-1.67)(1.485,-1.63)(1.505,-1.61)(1.525,-1.60)(1.545,-1.58)(1.565,-1.56)(1.585,-1.55)(1.605,-1.53)(1.625,-1.52)
(1.645,-1.50)(1.665,-1.49)(1.685,-1.47)(1.705,-1.46)(1.725,-1.44)(1.745,-1.43)(1.765,-1.42)(1.785,-1.40)(1.805,-1.39)(1.825,-1.38)
(1.845,-1.37)(1.865,-1.36)(1.885,-1.35)(1.905,-1.34)(1.925,-1.33)(1.945,-1.32)(1.965,-1.31)
(3.335,-1.80)(3.355,-1.78)(3.375,-1.76)(3.395,-1.74)(3.415,-1.72)(3.435,-1.70)(3.455,-1.68)(3.475,-1.655)(3.495,-1.635)(3.515,-1.615)
(3.535,-1.60)(3.555,-1.58)(3.575,-1.565)(3.595,-1.55)(3.615,-1.535)(3.635,-1.52)(3.655,-1.505)(3.675,-1.49)(3.695,-1.48)(3.715,-1.46)
(3.735,-1.45)(3.755,-1.435)(3.775,-1.42)(3.795,-1.41)(3.815,-1.395)(3.835,-1.38)
(4.365,-1.70)(4.385,-1.68)(4.405,-1.66)(4.425,-1.64)(4.445,-1.62)(4.465,-1.61)(4.485,-1.59)(4.505,-1.57)(4.525,-1.55)(4.545,-1.53)
(4.565,-1.52)(4.585,-1.50)(4.605,-1.48)(4.625,-1.46)(4.645,-1.44)(4.665,-1.42)(4.685,-1.40)(4.705,-1.38)
(5.345,-1.75)(5.365,-1.74)(5.385,-1.72)(5.405,-1.71)(5.425,-1.69)(5.445,-1.67)(5.465,-1.65)(5.485,-1.62)(5.505,-1.60)(5.525,-1.58)
(5.545,-1.56)(5.565,-1.54)(5.585,-1.52)(5.605,-1.50)(5.625,-1.48)(5.645,-1.47)(5.665,-1.45)(5.685,-1.43)(5.705,-1.41)(5.725,-1.39)
(5.745,-1.37)(5.765,-1.36)(5.785,-1.34)(5.805,-1.33)(5.825,-1.32)(5.845,-1.31)
(6.335,-1.80)(6.355,-1.78)(6.375,-1.76)(6.395,-1.74)(6.415,-1.72)(6.435,-1.70)(6.455,-1.67)(6.475,-1.66)(6.495,-1.64)(6.515,-1.62)
(6.535,-1.61)(6.555,-1.59)(6.575,-1.57)(6.595,-1.56)(6.615,-1.54)(6.635,-1.52)(6.655,-1.51)(6.675,-1.49)(6.695,-1.48)(6.715,-1.46)
(6.735,-1.45)(6.755,-1.43)(6.775,-1.42)(6.795,-1.40)(6.815,-1.39)(6.835,-1.37)(6.855,-1.36)(6.875,-1.34)(6.895,-1.33)(6.915,-1.32)
(6.935,-1.30)(6.955,-1.29)(6.975,-1.30)(6.995,-1.28)(7.015,-1.29)(7.035,-1.31)
(7.335,-1.79)(7.355,-1.77)(7.375,-1.75)(7.395,-1.73)(7.415,-1.71)(7.435,-1.69)(7.455,-1.67)(7.475,-1.65)(7.495,-1.63)(7.515,-1.61)
(7.535,-1.59)(7.555,-1.56)(7.575,-1.54)(7.595,-1.52)(7.615,-1.51)(7.635,-1.49)(7.655,-1.47)(7.675,-1.46)(7.695,-1.44)(7.715,-1.43)
(7.735,-1.41)(7.755,-1.40)(7.775,-1.38)(7.795,-1.37)(7.815,-1.36)(7.835,-1.34)(7.855,-1.33)(7.875,-1.32)(7.895,-1.31)(7.915,-1.30)
(7.935,-1.29)(7.955,-1.29)(7.975,-1.30)(7.995,-1.30)
};
\node[font=\fontsize{12.5}{14}\selectfont] at (axis description cs:0.9834,0.844) {V};
\end{axis}

% ---------------- R ----------------
\begin{axis}[panel, at={(68.9pt,-311.9pt)}, anchor=north west, height=111.3pt,
  ymin=-1.5406, ymax=-1.0385,
  ytick={-1.4,-1.2}, yticklabels={−1.4,−1.2}]
\addplot[dots=mred] coordinates {
(-0.28,-1.17)(-0.27,-1.15)(-0.26,-1.18)(-0.25,-1.13)(-0.24,-1.16)(-0.23,-1.11)(-0.22,-1.19)(-0.21,-1.12)(-0.20,-1.09)(-0.19,-1.14)
(-0.18,-1.07)(-0.17,-1.12)(-0.16,-1.10)(-0.15,-1.14)(-0.14,-1.08)(-0.13,-1.12)(-0.12,-1.06)(-0.11,-1.10)(-0.10,-1.13)(-0.09,-1.08)
(-0.08,-1.11)(-0.07,-1.07)(-0.06,-1.12)(-0.05,-1.09)(-0.04,-1.13)(-0.03,-1.07)(-0.02,-1.10)(-0.01,-1.06)(0.00,-1.11)(0.01,-1.08)
(0.02,-1.12)(0.03,-1.09)(0.04,-1.13)(0.05,-1.11)(0.06,-1.15)(0.07,-1.13)(0.08,-1.17)
(-0.24,-1.10)(-0.16,-1.16)(-0.08,-1.14)(0.00,-1.14)(-0.20,-1.13)(-0.12,-1.09)
(0.09,-1.15)(0.10,-1.17)(0.11,-1.19)(0.12,-1.20)(0.13,-1.22)(0.14,-1.24)(0.15,-1.26)(0.16,-1.28)(0.17,-1.31)(0.18,-1.33)
(0.19,-1.36)(0.20,-1.38)(0.21,-1.41)(0.22,-1.44)(0.23,-1.46)(0.24,-1.49)(0.25,-1.51)(0.26,-1.52)
(0.27,-1.50)(0.28,-1.52)(0.29,-1.49)(0.30,-1.51)(0.31,-1.47)(0.32,-1.50)(0.33,-1.52)(0.34,-1.48)(0.35,-1.51)(0.36,-1.46)
(0.37,-1.49)(0.38,-1.44)(0.39,-1.47)(0.40,-1.43)(0.41,-1.46)(0.42,-1.41)(0.43,-1.44)(0.44,-1.40)
(0.51,-1.35)(0.52,-1.29)(0.53,-1.33)(0.54,-1.36)(0.55,-1.30)(0.56,-1.34)(0.57,-1.28)(0.58,-1.32)(0.59,-1.26)(0.60,-1.30)
(0.61,-1.25)(0.62,-1.29)(0.63,-1.24)(0.64,-1.27)(0.65,-1.22)(0.66,-1.26)(0.67,-1.21)(0.68,-1.25)(0.69,-1.19)(0.70,-1.23)
(0.71,-1.18)(0.72,-1.22)(0.73,-1.17)(0.74,-1.21)(0.75,-1.16)(0.76,-1.20)(0.77,-1.15)(0.78,-1.19)(0.79,-1.14)(0.80,-1.18)
(0.81,-1.13)(0.82,-1.17)(0.83,-1.12)(0.84,-1.19)(0.85,-1.14)(0.86,-1.17)(0.87,-1.11)(0.88,-1.20)(0.89,-1.15)(0.90,-1.18)
(0.91,-1.12)(0.92,-1.10)(0.93,-1.14)(0.94,-1.08)(0.95,-1.12)(0.96,-1.10)(0.97,-1.07)(0.98,-1.11)(0.99,-1.08)(1.00,-1.12)
(1.01,-1.06)(1.02,-1.09)(1.03,-1.07)(1.04,-1.11)(1.05,-1.09)(1.06,-1.13)(1.07,-1.10)(1.08,-1.14)
(1.09,-1.15)(1.10,-1.16)(1.11,-1.18)(1.12,-1.20)(1.13,-1.22)(1.14,-1.24)(1.15,-1.27)(1.16,-1.29)(1.17,-1.32)(1.18,-1.35)
(1.19,-1.37)(1.20,-1.40)(1.21,-1.42)(1.22,-1.44)(1.23,-1.46)(1.24,-1.45)(1.25,-1.48)(1.26,-1.46)(1.27,-1.49)(1.28,-1.47)
(1.29,-1.51)(1.30,-1.48)(1.31,-1.52)(1.32,-1.47)(1.33,-1.50)(1.34,-1.45)(1.35,-1.51)(1.36,-1.46)(1.37,-1.49)(1.38,-1.44)
(1.39,-1.48)(1.40,-1.43)(1.41,-1.47)
(1.42,-1.40)(1.43,-1.44)(1.44,-1.38)(1.45,-1.42)(1.46,-1.36)(1.47,-1.41)(1.48,-1.35)(1.49,-1.39)(1.50,-1.33)(1.51,-1.38)
(1.52,-1.31)(1.53,-1.36)(1.54,-1.30)(1.55,-1.34)(1.56,-1.28)(1.57,-1.33)(1.58,-1.27)(1.59,-1.31)(1.60,-1.26)(1.61,-1.30)
(1.62,-1.24)(1.63,-1.28)(1.64,-1.23)(1.65,-1.27)(1.66,-1.22)(1.67,-1.26)(1.68,-1.20)(1.69,-1.24)(1.70,-1.19)(1.71,-1.23)
(1.72,-1.18)(1.73,-1.22)(1.74,-1.17)(1.75,-1.21)(1.76,-1.15)(1.77,-1.20)(1.78,-1.14)(1.79,-1.19)(1.80,-1.13)(1.81,-1.17)
(1.82,-1.12)(1.83,-1.16)(1.84,-1.19)(1.85,-1.11)(1.86,-1.15)(1.87,-1.10)(1.88,-1.14)(1.89,-1.09)(1.90,-1.13)(1.91,-1.08)
(1.92,-1.12)(1.93,-1.10)(1.94,-1.07)(1.95,-1.11)(1.96,-1.08)(1.97,-1.10)(1.98,-1.06)(1.99,-1.09)(2.00,-1.07)
(2.53,-1.33)(2.53,-1.30)(2.54,-1.31)(2.55,-1.28)(2.56,-1.30)(2.57,-1.27)(2.58,-1.29)(2.59,-1.26)(2.60,-1.28)(2.61,-1.25)
(2.62,-1.27)(2.63,-1.24)(2.64,-1.26)(2.65,-1.22)(2.66,-1.25)(2.67,-1.21)(2.68,-1.24)(2.69,-1.20)(2.70,-1.22)(2.71,-1.19)
(2.72,-1.21)(2.73,-1.17)(2.74,-1.19)(2.75,-1.16)(2.76,-1.18)(2.77,-1.14)(2.78,-1.16)(2.79,-1.12)(2.80,-1.15)(2.81,-1.11)
(2.82,-1.13)(2.83,-1.10)(2.84,-1.12)(2.85,-1.08)(2.86,-1.11)(2.87,-1.07)(2.88,-1.10)(2.89,-1.08)(2.90,-1.11)(2.91,-1.09)
(2.92,-1.07)(2.93,-1.10)(2.94,-1.08)(2.95,-1.11)(2.96,-1.09)(2.97,-1.12)(2.98,-1.08)(2.99,-1.10)(3.00,-1.07)(3.01,-1.11)
(3.02,-1.09)(3.03,-1.12)(3.04,-1.10)(3.05,-1.08)(3.06,-1.11)(3.07,-1.13)(3.08,-1.12)(3.09,-1.15)(3.10,-1.17)(3.11,-1.19)
(3.12,-1.20)(3.13,-1.23)(3.14,-1.25)(3.15,-1.28)(3.16,-1.31)(3.17,-1.33)(3.18,-1.36)(3.19,-1.38)(3.20,-1.41)(3.21,-1.43)
(3.22,-1.45)(3.23,-1.46)(3.24,-1.48)(3.25,-1.49)(3.26,-1.50)(3.27,-1.51)(3.28,-1.52)(3.29,-1.50)(3.30,-1.51)(3.31,-1.48)
(3.32,-1.50)(3.33,-1.47)(3.34,-1.49)(3.35,-1.45)(3.36,-1.47)(3.37,-1.44)(3.38,-1.46)(3.39,-1.42)(3.40,-1.44)(3.41,-1.41)
(3.42,-1.43)(3.43,-1.39)(3.44,-1.41)(3.45,-1.38)(3.46,-1.40)(3.47,-1.36)(3.48,-1.39)(3.49,-1.35)(3.50,-1.37)(3.51,-1.34)
(3.52,-1.36)(3.53,-1.32)(3.54,-1.34)(3.55,-1.31)(3.56,-1.33)(3.57,-1.30)(3.58,-1.32)(3.59,-1.29)(3.60,-1.31)(3.61,-1.27)
(3.62,-1.30)(3.63,-1.26)(3.64,-1.29)(3.65,-1.25)(3.66,-1.27)(3.67,-1.24)(3.68,-1.26)(3.69,-1.22)(3.70,-1.25)(3.71,-1.21)
(3.72,-1.24)(3.73,-1.20)(3.74,-1.22)(3.75,-1.19)(3.76,-1.21)(3.77,-1.18)(3.78,-1.20)(3.79,-1.17)(3.80,-1.19)(3.81,-1.16)
(3.82,-1.18)(3.83,-1.14)(3.84,-1.17)(3.85,-1.13)
(3.94,-1.08)(3.95,-1.06)(3.96,-1.09)(3.97,-1.07)(3.98,-1.05)(3.99,-1.09)(4.00,-1.07)(4.01,-1.10)(4.02,-1.06)(4.03,-1.09)
(4.04,-1.12)(4.05,-1.08)(4.06,-1.11)(4.07,-1.14)(4.08,-1.11)(4.09,-1.15)(4.10,-1.14)(4.11,-1.17)(4.12,-1.19)(4.13,-1.21)
(4.14,-1.23)(4.15,-1.26)(4.16,-1.28)(4.17,-1.30)(4.18,-1.33)(4.19,-1.35)(4.20,-1.37)(4.21,-1.39)(4.22,-1.41)(4.23,-1.43)
(4.24,-1.45)(4.25,-1.46)(4.26,-1.48)(4.27,-1.50)(4.28,-1.52)(4.29,-1.47)(4.29,-1.50)(4.30,-1.48)(4.31,-1.51)(4.32,-1.46)(4.33,-1.49)
(4.34,-1.47)(4.35,-1.43)(4.36,-1.46)(4.37,-1.41)(4.38,-1.44)(4.39,-1.39)(4.40,-1.43)(4.41,-1.38)(4.42,-1.41)(4.43,-1.36)
(4.44,-1.40)(4.45,-1.35)(4.46,-1.38)(4.47,-1.33)(4.48,-1.37)(4.49,-1.32)(4.50,-1.35)(4.51,-1.30)(4.52,-1.34)(4.53,-1.29)
(4.54,-1.32)(4.55,-1.27)(4.56,-1.31)(4.57,-1.26)(4.58,-1.30)(4.59,-1.25)(4.60,-1.28)(4.61,-1.23)(4.62,-1.27)(4.63,-1.22)
(4.64,-1.26)(4.65,-1.21)(4.66,-1.24)(4.67,-1.19)(4.68,-1.23)(4.69,-1.18)(4.70,-1.22)(4.71,-1.17)(4.72,-1.20)(4.73,-1.15)
(4.74,-1.19)(4.75,-1.14)(4.76,-1.18)(4.77,-1.13)(4.78,-1.16)(4.79,-1.12)(4.80,-1.15)
(4.81,-1.10)(4.82,-1.14)(4.83,-1.08)(4.84,-1.12)(4.85,-1.15)(4.86,-1.09)(4.87,-1.13)(4.88,-1.07)(4.89,-1.11)(4.90,-1.14)
(4.91,-1.08)(4.92,-1.12)(4.93,-1.06)(4.94,-1.10)(4.95,-1.13)(4.96,-1.08)(4.97,-1.11)(4.98,-1.07)(4.99,-1.12)(5.00,-1.09)
(5.01,-1.14)(5.02,-1.07)(5.03,-1.11)(5.04,-1.08)(5.05,-1.13)(5.06,-1.10)(5.07,-1.15)(5.08,-1.12)(5.09,-1.16)
(4.84,-1.09)(4.92,-1.15)(4.98,-1.10)(5.04,-1.12)
(5.10,-1.17)(5.11,-1.19)(5.12,-1.20)(5.13,-1.22)(5.14,-1.24)(5.15,-1.26)(5.16,-1.28)(5.17,-1.31)(5.18,-1.33)(5.19,-1.36)
(5.20,-1.38)(5.21,-1.40)(5.22,-1.42)(5.23,-1.44)(5.24,-1.43)(5.25,-1.46)(5.26,-1.44)(5.27,-1.48)(5.28,-1.46)(5.29,-1.50)
(5.30,-1.47)(5.31,-1.49)(5.32,-1.45)(5.33,-1.48)(5.34,-1.44)(5.35,-1.47)(5.36,-1.42)(5.37,-1.46)(5.38,-1.44)(5.39,-1.41)(5.40,-1.43)
(5.41,-1.38)(5.42,-1.41)(5.43,-1.37)(5.44,-1.39)(5.45,-1.36)(5.46,-1.38)(5.47,-1.35)(5.48,-1.37)(5.49,-1.34)(5.50,-1.36)
(5.51,-1.31)(5.52,-1.33)(5.53,-1.29)(5.54,-1.31)(5.55,-1.27)(5.56,-1.30)(5.57,-1.25)(5.58,-1.28)(5.59,-1.24)(5.60,-1.27)
(5.61,-1.23)(5.62,-1.26)(5.63,-1.22)(5.64,-1.25)(5.65,-1.21)(5.66,-1.24)(5.67,-1.20)(5.68,-1.23)(5.69,-1.19)(5.70,-1.21)
(5.71,-1.17)(5.72,-1.20)(5.73,-1.16)(5.74,-1.18)(5.75,-1.15)(5.76,-1.17)(5.77,-1.13)(5.78,-1.16)(5.79,-1.12)(5.80,-1.15)
(5.81,-1.11)(5.82,-1.14)(5.83,-1.12)(5.84,-1.15)(5.85,-1.11)(5.86,-1.13)(5.87,-1.10)(5.88,-1.14)(5.89,-1.11)(5.90,-1.13)
(5.91,-1.09)(5.92,-1.12)(5.93,-1.10)(5.94,-1.13)(5.95,-1.09)(5.96,-1.11)(5.97,-1.08)(5.98,-1.10)(5.99,-1.07)(6.00,-1.09)
(6.33,-1.52)(6.33,-1.48)(6.34,-1.50)(6.35,-1.46)(6.36,-1.49)(6.37,-1.45)(6.38,-1.48)(6.39,-1.43)(6.40,-1.46)(6.41,-1.42)
(6.42,-1.45)(6.43,-1.40)(6.44,-1.43)(6.45,-1.39)(6.46,-1.42)(6.47,-1.37)(6.48,-1.40)(6.49,-1.35)(6.50,-1.39)(6.51,-1.34)
(6.52,-1.37)(6.53,-1.32)(6.54,-1.36)(6.55,-1.31)(6.56,-1.34)(6.57,-1.29)(6.58,-1.33)(6.59,-1.28)(6.60,-1.31)(6.61,-1.26)
(6.62,-1.30)(6.63,-1.25)(6.64,-1.28)(6.65,-1.24)(6.66,-1.27)(6.67,-1.22)(6.68,-1.26)(6.69,-1.21)(6.70,-1.24)(6.71,-1.20)
(6.72,-1.23)(6.73,-1.18)(6.74,-1.21)(6.75,-1.17)(6.76,-1.20)(6.77,-1.16)(6.78,-1.19)(6.79,-1.14)(6.80,-1.18)(6.81,-1.13)
(6.82,-1.16)(6.83,-1.12)(6.84,-1.15)(6.85,-1.11)(6.86,-1.14)(6.87,-1.10)(6.88,-1.13)(6.89,-1.09)(6.90,-1.12)(6.91,-1.08)
(6.92,-1.11)(6.93,-1.07)(6.94,-1.10)(6.95,-1.08)(6.96,-1.11)(6.97,-1.06)(6.98,-1.09)(6.99,-1.07)(7.00,-1.05)(7.01,-1.08)
(7.02,-1.06)(7.03,-1.10)(7.04,-1.12)(6.60,-1.24)(6.70,-1.19)(6.80,-1.13)(6.88,-1.10)
(7.05,-1.13)(7.06,-1.15)(7.07,-1.16)(7.08,-1.18)(7.09,-1.19)(7.10,-1.21)(7.11,-1.23)(7.12,-1.25)(7.13,-1.27)(7.14,-1.29)
(7.15,-1.31)(7.16,-1.33)(7.17,-1.35)(7.18,-1.37)(7.19,-1.39)(7.20,-1.41)(7.21,-1.43)(7.22,-1.45)(7.23,-1.46)(7.24,-1.47)
(7.25,-1.49)(7.26,-1.48)(7.27,-1.50)(7.28,-1.51)(7.29,-1.49)(7.30,-1.47)
(7.31,-1.48)(7.32,-1.45)(7.33,-1.47)(7.34,-1.43)(7.35,-1.46)(7.36,-1.42)(7.37,-1.45)(7.38,-1.40)(7.39,-1.43)(7.40,-1.38)
(7.41,-1.42)(7.42,-1.37)(7.43,-1.40)(7.44,-1.35)(7.45,-1.39)(7.46,-1.34)(7.47,-1.37)(7.48,-1.32)(7.49,-1.36)(7.50,-1.31)
(7.51,-1.34)(7.52,-1.30)(7.53,-1.33)(7.54,-1.28)(7.55,-1.31)(7.56,-1.27)(7.57,-1.30)(7.58,-1.25)(7.59,-1.28)(7.60,-1.24)
(7.61,-1.27)(7.62,-1.22)(7.63,-1.26)(7.64,-1.21)(7.65,-1.24)(7.66,-1.20)(7.67,-1.23)(7.68,-1.18)(7.69,-1.22)(7.70,-1.17)
(7.71,-1.20)(7.72,-1.16)(7.73,-1.19)(7.74,-1.15)(7.75,-1.18)(7.76,-1.14)(7.77,-1.17)(7.78,-1.12)(7.79,-1.16)(7.80,-1.11)
(7.81,-1.15)(7.82,-1.13)(7.83,-1.10)(7.84,-1.14)(7.85,-1.09)(7.86,-1.12)(7.87,-1.08)(7.88,-1.11)(7.89,-1.09)(7.90,-1.13)
(7.91,-1.07)(7.92,-1.10)(7.93,-1.08)(7.94,-1.06)(7.95,-1.09)(7.96,-1.07)(7.97,-1.10)(7.98,-1.08)(8.00,-1.07)
(8.03,-1.09)(8.04,-1.12)(8.05,-1.14)(8.06,-1.16)(8.07,-1.18)(8.08,-1.19)(8.09,-1.17)(8.10,-1.21)(8.11,-1.23)(8.12,-1.25)(8.13,-1.29)(8.14,-1.31)
(8.19,-1.37)(8.20,-1.42)(8.21,-1.45)(8.22,-1.44)(8.23,-1.47)(8.24,-1.48)(8.25,-1.50)(8.26,-1.47)(8.27,-1.49)(8.28,-1.46)
(8.29,-1.50)(8.30,-1.48)(8.31,-1.51)(8.32,-1.46)(8.33,-1.48)(8.34,-1.44)(8.35,-1.46)(8.36,-1.42)(8.37,-1.44)(8.38,-1.40)
(8.39,-1.42)(8.40,-1.38)(8.41,-1.40)(8.42,-1.37)(8.43,-1.39)(8.44,-1.35)(8.45,-1.37)(8.46,-1.33)(8.47,-1.35)(8.48,-1.31)
(8.49,-1.34)(8.50,-1.30)(8.51,-1.32)(8.52,-1.28)(8.53,-1.30)(8.54,-1.27)(8.55,-1.25)(8.55,-1.21)
};
\addplot[dots=mred] coordinates {
(0.515,-1.32)(0.535,-1.34)(0.555,-1.32)(0.575,-1.30)(0.595,-1.28)(0.615,-1.27)(0.635,-1.255)(0.655,-1.24)(0.675,-1.23)(0.695,-1.21)
(0.715,-1.20)(0.735,-1.19)(0.755,-1.18)(0.775,-1.17)(0.795,-1.16)(0.815,-1.15)(0.835,-1.155)(0.855,-1.155)(0.875,-1.16)(0.895,-1.165)
(0.915,-1.11)(0.935,-1.11)(0.955,-1.11)(0.975,-1.09)
(0.55,-1.35)(0.62,-1.32)(0.70,-1.19)(0.78,-1.22)(0.86,-1.21)(0.90,-1.20)
(1.425,-1.42)(1.445,-1.40)(1.465,-1.385)(1.485,-1.37)(1.505,-1.355)(1.525,-1.335)(1.545,-1.32)(1.565,-1.305)(1.585,-1.29)(1.605,-1.28)
(1.625,-1.26)(1.645,-1.25)(1.665,-1.24)(1.685,-1.22)(1.705,-1.21)(1.725,-1.20)(1.745,-1.19)(1.765,-1.175)(1.785,-1.165)(1.805,-1.15)
(1.825,-1.14)(1.845,-1.15)(1.865,-1.125)(1.885,-1.115)(1.905,-1.105)(1.925,-1.11)(1.945,-1.09)(1.965,-1.09)(1.985,-1.075)
(1.50,-1.28)(1.58,-1.23)(1.62,-1.33)(1.70,-1.16)(1.78,-1.23)(1.86,-1.18)
(2.545,-1.30)(2.565,-1.285)(2.585,-1.275)(2.605,-1.265)(2.625,-1.255)(2.645,-1.24)(2.665,-1.23)(2.685,-1.22)(2.705,-1.205)(2.725,-1.19)
(2.745,-1.175)(2.765,-1.16)(2.785,-1.14)(2.805,-1.13)(2.825,-1.115)(2.845,-1.10)
(3.305,-1.495)(3.325,-1.485)(3.345,-1.47)(3.365,-1.455)(3.385,-1.44)(3.405,-1.425)(3.425,-1.41)(3.445,-1.395)(3.465,-1.38)(3.485,-1.37)
(3.505,-1.355)(3.525,-1.34)(3.545,-1.325)(3.565,-1.315)(3.585,-1.305)(3.605,-1.29)(3.625,-1.28)(3.645,-1.27)(3.665,-1.255)(3.685,-1.24)
(3.705,-1.23)(3.725,-1.22)(3.745,-1.205)(3.765,-1.195)(3.785,-1.185)(3.805,-1.175)(3.825,-1.16)(3.845,-1.15)
(4.345,-1.45)(4.365,-1.435)(4.385,-1.415)(4.405,-1.405)(4.425,-1.385)(4.445,-1.375)(4.465,-1.355)(4.485,-1.345)(4.505,-1.325)(4.525,-1.315)
(4.545,-1.295)(4.565,-1.285)(4.585,-1.275)(4.605,-1.255)(4.625,-1.245)(4.645,-1.235)(4.665,-1.215)(4.685,-1.205)(4.705,-1.195)(4.725,-1.175)
(4.745,-1.165)(4.765,-1.155)(4.785,-1.14)(4.40,-1.36)(4.48,-1.29)(4.56,-1.35)(4.64,-1.19)(4.72,-1.23)
(5.415,-1.395)(5.435,-1.38)(5.455,-1.37)(5.475,-1.36)(5.495,-1.35)(5.515,-1.32)(5.535,-1.30)(5.555,-1.285)(5.575,-1.265)(5.595,-1.255)
(5.615,-1.245)(5.635,-1.235)(5.655,-1.225)(5.675,-1.215)(5.695,-1.20)(5.715,-1.185)(5.735,-1.17)(5.755,-1.16)(5.775,-1.145)(5.795,-1.135)
(5.815,-1.125)(5.56,-1.23)(5.60,-1.31)(5.64,-1.20)(5.68,-1.27)(5.72,-1.15)(5.58,-1.33)
(6.335,-1.49)(6.355,-1.475)(6.375,-1.465)(6.395,-1.445)(6.415,-1.435)(6.435,-1.415)(6.455,-1.405)(6.475,-1.385)(6.495,-1.37)(6.515,-1.355)
(6.535,-1.34)(6.555,-1.325)(6.575,-1.31)(6.595,-1.295)(6.615,-1.28)(6.635,-1.265)(6.655,-1.255)(6.675,-1.24)(6.695,-1.225)(6.715,-1.215)
(6.735,-1.195)(6.755,-1.185)(6.775,-1.175)(6.795,-1.16)(6.815,-1.145)(6.835,-1.135)(6.855,-1.125)(6.875,-1.115)(6.895,-1.105)(6.915,-1.095)
(6.935,-1.085)(6.955,-1.095)(6.975,-1.075)(6.995,-1.06)
(6.40,-1.40)(6.50,-1.42)(6.58,-1.25)(6.66,-1.31)(6.74,-1.17)(6.82,-1.20)(6.86,-1.07)(6.92,-1.15)
(7.315,-1.465)(7.335,-1.45)(7.355,-1.44)(7.375,-1.425)(7.395,-1.415)(7.415,-1.395)(7.435,-1.375)(7.455,-1.365)(7.475,-1.345)(7.495,-1.335)
(7.515,-1.32)(7.535,-1.305)(7.555,-1.29)(7.575,-1.275)(7.595,-1.26)(7.615,-1.245)(7.635,-1.235)(7.655,-1.22)(7.675,-1.205)(7.695,-1.195)
(7.715,-1.18)(7.735,-1.17)(7.755,-1.16)(7.775,-1.145)(7.795,-1.135)(7.815,-1.14)(7.835,-1.12)(7.855,-1.105)(7.875,-1.095)(7.895,-1.11)
(7.40,-1.35)(7.48,-1.38)(7.56,-1.24)(7.64,-1.28)(7.72,-1.12)(7.80,-1.18)(7.86,-1.15)
};
\node[font=\fontsize{12.5}{14}\selectfont] at (axis description cs:0.9834,0.86) {R};
\end{axis}
\end{tikzpicture}
\end{document}
